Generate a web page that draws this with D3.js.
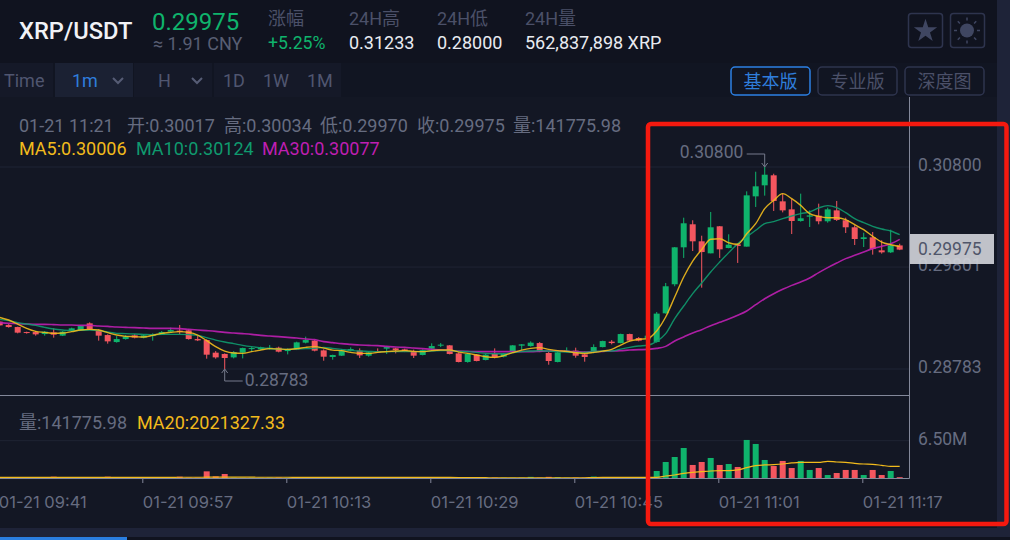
<!DOCTYPE html>
<html>
<head>
<meta charset="utf-8">
<title>XRP/USDT</title>
<script src="https://cdnjs.cloudflare.com/ajax/libs/d3/7.8.5/d3.min.js"></script>
<style>
    html, body { margin: 0; padding: 0; background: #131724; overflow: hidden; }
    svg { display: block; }
    text { font-family: Roboto, "Noto Sans CJK SC", sans-serif; }
</style>
</head>
<body>
<svg id="chart" width="1010" height="540"></svg>
<script>
// one candle per minute, 09:41 to 11:21
var firstTime = new Date(2021, 0, 21, 9, 41);
var tickTimes = ['09:41', '09:57', '10:13', '10:29', '10:45', '11:01', '11:17'];
var priceTicks = [0.30800, 0.29801, 0.28783];
var volumeTicks = [6.5];

var opens = [
    .29256, .29222, .29202, .29152, .29152, .29132, .29149, .29116, .29162, .29169,
    .29239, .29166, .29122, .29052, .29082, .29119, .29096, .29112, .29126, .29156,
    .29166, .29169, .29082, .29072, .28946, .28933, .28899, .28946, .28986, .28979,
    .28982, .28996, .28962, .28979, .29046, .29066, .28969, .28903, .28916, .28966,
    .28966, .28916, .28959, .28986, .28989, .28979, .28962, .28923, .28986, .29016,
    .29019, .28939, .28853, .28926, .28873, .28933, .28906, .28962, .29016, .29012,
    .29042, .28943, .28853, .28956, .28966, .28929, .28949, .29002, .29056, .29042,
    .29132, .29092, .29079, .29053, .29339, .29629, .29998, .30228, .30058, .29938,
    .30208, .29991, .30028, .30005, .30507, .30617, .30717, .30457, .30377, .30261,
    .30304, .30314, .30258, .30367, .30268, .30198, .30081, .30098, .29968, .29948,
    .30017
];
var highs = [
    .29266, .29232, .29206, .29156, .29162, .29162, .29189, .29162, .29196, .29216,
    .29249, .29179, .29129, .29112, .29122, .29132, .29126, .29139, .29162, .29196,
    .29222, .29179, .29112, .29079, .28962, .28939, .28962, .28996, .29002, .29006,
    .29022, .29006, .28989, .29056, .29106, .29072, .28979, .28926, .28982, .28999,
    .28989, .28959, .28989, .29006, .28996, .28986, .28976, .28979, .29039, .29042,
    .29022, .28949, .28939, .28933, .28933, .28989, .28939, .29022, .29032, .29059,
    .29052, .28956, .28956, .28999, .28996, .28956, .29029, .29066, .29072, .29136,
    .29136, .29102, .29126, .29352, .29642, .30001, .30294, .30268, .30114, .30351,
    .30211, .30128, .30035, .30557, .30753, .30800, .30733, .30534, .30484, .30534,
    .30367, .30434, .30394, .30461, .30294, .30218, .30144, .30151, .30068, .30174,
    .30034
];
var lows = [
    .29212, .29196, .29139, .29136, .29116, .29116, .29096, .29112, .29156, .29166,
    .29172, .29066, .29036, .29046, .29076, .29089, .29089, .29066, .29122, .29149,
    .29132, .29076, .29062, .28886, .28886, .28783, .28889, .28889, .28956, .28972,
    .28976, .28949, .28929, .28972, .29039, .28959, .28866, .28876, .28913, .28959,
    .28893, .28906, .28943, .28933, .28939, .28952, .28893, .28919, .28972, .29002,
    .28929, .28849, .28846, .28859, .28869, .28889, .28899, .28956, .28972, .29006,
    .28952, .28826, .28849, .28949, .28896, .28856, .28939, .28999, .29029, .29039,
    .29059, .29059, .29069, .29046, .29336, .29609, .29892, .29961, .29595, .29938,
    .29892, .29988, .29842, .30005, .30401, .30514, .30361, .30347, .30131, .30254,
    .30201, .30228, .30244, .30261, .30141, .30021, .30001, .29925, .29935, .29941,
    .29970
];
var closes = [
    .29219, .29202, .29146, .29142, .29129, .29156, .29126, .29156, .29189, .29212,
    .29179, .29116, .29059, .29082, .29109, .29096, .29119, .29126, .29152, .29172,
    .29152, .29082, .29069, .28926, .28899, .28893, .28952, .28992, .28992, .28999,
    .28996, .28956, .28979, .29049, .29072, .28966, .28906, .28923, .28966, .28982,
    .28919, .28949, .28949, .29002, .28972, .28959, .28916, .28972, .29012, .29026,
    .28933, .28853, .28933, .28863, .28926, .28899, .28933, .29019, .29029, .29046,
    .28959, .28863, .28949, .28969, .28916, .28903, .29002, .29062, .29042, .29132,
    .29066, .29066, .29116, .29336, .29609, .29998, .30238, .30058, .29951, .30198,
    .29978, .30025, .30011, .30517, .30607, .30723, .30461, .30367, .30261, .30288,
    .30317, .30258, .30377, .30271, .30198, .30081, .30098, .29981, .29948, .30018,
    .29975
];
var ma5 = [
    .29299, .29272, .29232, .29189, .29159, .29149, .29139, .29142, .29156, .29172,
    .29179, .29172, .29146, .29122, .29109, .29106, .29102, .29119, .29139, .29149,
    .29156, .29149, .29122, .29066, .29006, .28962, .28943, .28939, .28956, .28972,
    .28986, .28982, .28979, .28986, .28999, .29006, .28992, .28972, .28966, .28949,
    .28939, .28939, .28949, .28956, .28962, .28966, .28959, .28956, .28966, .28972,
    .28972, .28952, .28939, .28923, .28906, .28899, .28916, .28946, .28972, .28989,
    .28996, .28979, .28966, .28959, .28946, .28939, .28949, .28962, .28979, .29022,
    .29062, .29079, .29086, .29163, .29302, .29502, .29702, .29861, .29975, .30078,
    .30084, .30044, .30028, .30134, .30234, .30384, .30467, .30534, .30484, .30417,
    .30334, .30307, .30294, .30294, .30274, .30224, .30174, .30108, .30051, .30024,
    .30006
];
var ma10 = [
    .29279, .29266, .29246, .29232, .29219, .29199, .29182, .29172, .29166, .29169,
    .29172, .29166, .29152, .29139, .29136, .29132, .29129, .29126, .29129, .29129,
    .29129, .29126, .29119, .29096, .29072, .29052, .29036, .29019, .29006, .28996,
    .28986, .28982, .28979, .28982, .28986, .28989, .28999, .28989, .28979, .28969,
    .28962, .28959, .28956, .28956, .28956, .28956, .28956, .28959, .28962, .28966,
    .28966, .28959, .28956, .28949, .28939, .28936, .28936, .28946, .28956, .28962,
    .28966, .28962, .28956, .28952, .28949, .28949, .28956, .28962, .28962, .28982,
    .28999, .29012, .29020, .29059, .29136, .29286, .29412, .29535, .29642, .29752,
    .29851, .29945, .30034, .30101, .30168, .30234, .30254, .30284, .30311, .30334,
    .30351, .30391, .30414, .30394, .30344, .30284, .30244, .30208, .30181, .30161,
    .30124
];
var ma30 = [
    .29246, .29239, .29236, .29232, .29229, .29229, .29226, .29222, .29222, .29219,
    .29219, .29212, .29209, .29202, .29199, .29196, .29192, .29189, .29189, .29189,
    .29186, .29179, .29172, .29166, .29159, .29149, .29142, .29136, .29129, .29119,
    .29112, .29106, .29099, .29092, .29082, .29076, .29056, .29046, .29036, .29029,
    .29022, .29019, .29016, .29009, .29002, .28999, .28992, .28986, .28979, .28972,
    .28969, .28962, .28959, .28956, .28956, .28956, .28956, .28956, .28956, .28956,
    .28959, .28962, .28962, .28959, .28956, .28952, .28956, .28959, .28962, .28966,
    .28972, .28976, .28979, .28989, .29009, .29063, .29103, .29143, .29176, .29216,
    .29249, .29282, .29319, .29362, .29425, .29485, .29535, .29579, .29618, .29652,
    .29692, .29745, .29795, .29841, .29885, .29918, .29951, .29985, .30008, .30034,
    .30077
];
// volume in millions
var volumes = [
    .05, .06, .05, .07, .05, .06, .23, .06, .05, .06,
    .05, .07, .23, .06, .05, .06, .05, .06, .07, .05,
    .23, .06, .05, 1.16, .29, .70, .06, .05, .06, .05,
    .06, .07, .05, .06, .05, .06, .05, .06, .05, .07,
    .05, .06, .05, .06, .05, .06, .07, .05, .06, .05,
    .06, .05, .06, .07, .05, .06, .05, .05, .06, .20,
    .05, .20, .15, .05, .06, .05, .25, .06, .05, .06,
    .05, .06, .08, 1.22, 2.79, 3.66, 5.23, 2.27, 2.79, 3.49,
    2.27, 2.44, 1.92, 6.63, 5.93, 3.14, 2.09, 2.97, 1.74, 2.97,
    1.40, 1.74, .52, .87, 1.40, 1.40, .52, 1.40, .52, 1.22,
    .14
];
var ma20 = [
    .12, .12, .12, .12, .12, .12, .12, .12, .12, .12,
    .12, .12, .12, .12, .12, .12, .12, .12, .12, .12,
    .13, .13, .13, .14, .14, .14, .14, .14, .14, .13,
    .13, .13, .13, .12, .12, .12, .12, .12, .12, .12,
    .12, .12, .12, .12, .12, .12, .12, .12, .12, .11,
    .10, .09, .08, .07, .05, .03, .02, .01, .01, .01,
    .02, .03, .03, .02, .01, .04, .08, .10, .10, .10,
    .10, .11, .12, .12, .35, .52, .81, .99, 1.10, 1.22,
    1.28, 1.28, 1.40, 1.80, 2.15, 2.27, 2.33, 2.44, 2.62, 2.73,
    2.73, 2.73, 2.91, 2.79, 2.73, 2.56, 2.44, 2.38, 2.21, 2.03,
    2.02
];

var GREEN = '#0fb36c', RED = '#f4565f', YELLOW = '#f2bb1c', TEAL = '#0f9a6e', MAGENTA = '#bf1fb2';
var GREY = '#666c80', DIM = '#4b5068', WHITE = '#e9ebf1';

var svg = d3.select('#chart');

var timeAt = function (i) { return d3.timeMinute.offset(firstTime, i); };
var x = d3.scaleTime()
    .domain([firstTime, timeAt(100)])
    .range([-0.3, 899.7]);
var y = d3.scaleLinear().domain([0.30800, 0.28783]).range([167, 369]);
var yVol = d3.scaleLinear().domain([0, 6.5]).range([478, 440.7]);
var parseTick = function (s) {
    var p = s.split(':');
    return new Date(2021, 0, 21, +p[0], +p[1]);
};

function label(sel, str, px, py, size, color, weight) {
    return sel.append('text')
        .attr('x', px).attr('y', py)
        .attr('font-size', size)
        .attr('font-weight', weight || 400)
        .attr('fill', color)
        .text(str);
}
function box(sel, px, py, w, h, fill) {
    return sel.append('rect').attr('x', px).attr('y', py).attr('width', w).attr('height', h).attr('fill', fill);
}

// page chrome
box(svg, 0, 0, 1010, 540, '#131724');
box(svg, 0, 0, 1010, 63, '#10131f');
box(svg, 0, 63, 1010, 34, '#111522');
box(svg, 0, 63, 53, 34, '#151928');
box(svg, 55, 63, 78, 34, '#1b2133');
box(svg, 134, 63, 78, 34, '#151928');
box(svg, 214, 63, 127, 34, '#151928');
box(svg, 997, 0, 13, 528, '#1e2338');
box(svg, 0, 528, 1010, 9, '#1e2338');
box(svg, 0, 537, 1010, 3, '#10131f');
box(svg, 0, 537, 127, 3, '#2a7ee0');

// header
var head = svg.append('g');
label(head, 'XRP/USDT', 19, 39, 23.7, '#f1f2f6', 500);
label(head, '0.29975', 152, 30, 24, GREEN, 400);
label(head, '≈ 1.91 CNY', 153, 50, 18, '#585e73');
label(head, '涨幅', 268, 25, 18, DIM);
label(head, '+5.25%', 268, 49, 17.7, GREEN);
label(head, '24H高', 349, 25, 18, DIM);
label(head, '0.31233', 349, 49, 18, WHITE);
label(head, '24H低', 437, 25, 18, DIM);
label(head, '0.28000', 437, 49, 18, WHITE);
label(head, '24H量', 525, 25, 18, DIM);
label(head, '562,837,898 XRP', 525, 49, 18, WHITE);

// favourite and theme buttons
[[908, 'star'], [950, 'sun']].forEach(function (b) {
    head.append('rect').attr('x', b[0] + 0.5).attr('y', 13.5).attr('width', 34).attr('height', 34).attr('rx', 3)
        .attr('fill', 'none').attr('stroke', '#2e344e').attr('stroke-width', 1.5);
});
head.append('path')
    .attr('d', d3.symbol(d3.symbolStar, 170)())
    .attr('transform', 'translate(925.5,31)')
    .attr('fill', '#3f4661');
head.append('circle').attr('cx', 967).attr('cy', 30.5).attr('r', 7).attr('fill', '#3f4661');
d3.range(8).forEach(function (k) {
    var a = k * Math.PI / 4;
    head.append('line')
        .attr('x1', 967 + Math.cos(a) * 10).attr('y1', 30.5 + Math.sin(a) * 10)
        .attr('x2', 967 + Math.cos(a) * 13).attr('y2', 30.5 + Math.sin(a) * 13)
        .attr('stroke', '#3f4661').attr('stroke-width', 1.5);
});

// toolbar
var bar = svg.append('g');
label(bar, 'Time', 4, 86.5, 18, '#505670');
label(bar, '1m', 72, 86.5, 18, '#2f7ddb');
label(bar, 'H', 158, 86.5, 18, '#505670');
label(bar, '1D', 223, 86.5, 18, '#505670');
label(bar, '1W', 263, 86.5, 18, '#505670');
label(bar, '1M', 307, 86.5, 18, '#505670');
[118, 197].forEach(function (cx) {
    bar.append('path')
        .attr('d', d3.line()([[cx - 5, 78], [cx, 83], [cx + 5, 78]]))
        .attr('fill', 'none').attr('stroke', '#565c75').attr('stroke-width', 2);
});
[['基本版', 731, '#2c80e4', '#2f7ddb'], ['专业版', 818, '#2e344e', '#4b5068'], ['深度图', 905, '#2e344e', '#4b5068']].forEach(function (b) {
    bar.append('rect').attr('x', b[1]).attr('y', 67).attr('width', 79).attr('height', 28).attr('rx', 4)
        .attr('fill', 'none').attr('stroke', b[2]).attr('stroke-width', 1.5);
    label(bar, b[0], b[1] + 39.5, 88, 18, b[3]).attr('text-anchor', 'middle');
});

// grid and axes
var grid = svg.append('g').attr('stroke', '#1f2434').attr('stroke-width', 1);
priceTicks.forEach(function (p) {
    grid.append('line').attr('x1', 0).attr('x2', 909).attr('y1', y(p)).attr('y2', y(p));
});
grid.append('line').attr('x1', 0).attr('x2', 909).attr('y1', yVol(6.5)).attr('y2', yVol(6.5));

var plot = svg.append('g');
svg.append('clipPath').attr('id', 'plotClip').append('rect').attr('width', 909).attr('height', 540);
plot.attr('clip-path', 'url(#plotClip)');

var idx = d3.range(opens.length);
var BODY = 6;

// volume bars
plot.append('g').selectAll('rect').data(idx).join('rect')
    .attr('x', function (i) { return x(timeAt(i)) - BODY / 2; })
    .attr('y', function (i) { return yVol(volumes[i]); })
    .attr('width', BODY)
    .attr('height', function (i) { return yVol(0) - yVol(volumes[i]); })
    .attr('fill', function (i) { return closes[i] >= opens[i] ? GREEN : RED; });

// volume average
plot.append('path')
    .attr('d', d3.line().x(function (i) { return x(timeAt(i)); }).y(function (i) { return yVol(ma20[i]); }).curve(d3.curveMonotoneX)(idx))
    .attr('fill', 'none').attr('stroke', YELLOW).attr('stroke-width', 1.2);

// candles
var candle = plot.append('g').selectAll('g').data(idx).join('g')
    .attr('fill', function (i) { return closes[i] >= opens[i] ? GREEN : RED; });
candle.append('rect')
    .attr('x', function (i) { return x(timeAt(i)) - 0.5; })
    .attr('width', 1)
    .attr('y', function (i) { return y(highs[i]); })
    .attr('height', function (i) { return y(lows[i]) - y(highs[i]); });
candle.append('rect')
    .attr('x', function (i) { return x(timeAt(i)) - BODY / 2; })
    .attr('width', BODY)
    .attr('y', function (i) { return y(Math.max(opens[i], closes[i])); })
    .attr('height', function (i) { return Math.max(1, Math.abs(y(opens[i]) - y(closes[i]))); });

// moving averages
[[ma30, MAGENTA, 1.6], [ma10, TEAL, 1.4], [ma5, YELLOW, 1.4]].forEach(function (m) {
    plot.append('path')
        .attr('d', d3.line().x(function (i) { return x(timeAt(i)); }).y(function (i) { return y(m[0][i]); }).curve(d3.curveMonotoneX)(idx))
        .attr('fill', 'none').attr('stroke', m[1]).attr('stroke-width', m[2]).attr('opacity', 0.9);
});

// panel frame
var frame = svg.append('g').attr('stroke', '#83889a').attr('stroke-width', 1);
frame.append('line').attr('x1', 0).attr('x2', 909.5).attr('y1', 395.5).attr('y2', 395.5);
frame.append('line').attr('x1', 0).attr('x2', 909.5).attr('y1', 478.5).attr('y2', 478.5);
frame.append('line').attr('x1', 909.5).attr('x2', 909.5).attr('y1', 97).attr('y2', 478.5);

// time axis, ticks sit a little left of the candle centres
var xAxis = d3.axisBottom(x)
    .tickValues(tickTimes.map(parseTick))
    .tickFormat(d3.timeFormat('%m-%d %H:%M'))
    .tickSize(5)
    .tickPadding(13);
var xAxisG = svg.append('g').attr('transform', 'translate(-1.4,478)').call(xAxis);
xAxisG.select('.domain').remove();
xAxisG.selectAll('line').attr('stroke', '#83889a');
xAxisG.selectAll('text')
    .attr('text-anchor', 'start')
    .attr('font-size', 16.5)
    .style('font-family', 'Inter, sans-serif')
    .attr('fill', GREY);

// value axes
var priceAxis = d3.axisRight(y).tickValues(priceTicks).tickFormat(d3.format('.5f')).tickSize(0).tickPadding(9);
var priceG = svg.append('g').attr('transform', 'translate(909,0)').call(priceAxis);
var volAxis = d3.axisRight(yVol).tickValues(volumeTicks).tickFormat(function (v) { return d3.format('.2f')(v) + 'M'; }).tickSize(0).tickPadding(9);
var volG = svg.append('g').attr('transform', 'translate(909,0)').call(volAxis);
[priceG, volG].forEach(function (g) {
    g.select('.domain').remove();
    g.selectAll('text').attr('font-size', 17.5).attr('fill', GREY).attr('dy', '0.2em');
});

// last price tag
box(svg, 910, 234, 84, 30, '#cdd0d6').attr('opacity', 0.93);
label(svg, '0.29975', 918, 255, 17.5, '#50566a');

// high and low marks
var hiIdx = d3.range(highs.length).reduce(function (a, b) { return highs[b] > highs[a] ? b : a; }, 0);
var loIdx = d3.range(lows.length).reduce(function (a, b) { return lows[b] < lows[a] ? b : a; }, 0);
var hx = x(timeAt(hiIdx)), hy = y(highs[hiIdx]);
var lx = x(timeAt(loIdx)), ly = y(lows[loIdx]);
var mark = d3.line();
svg.append('path')
    .attr('d', mark([[hx - 18, hy - 13], [hx, hy - 13], [hx, hy]]) + mark([[hx - 3, hy - 4], [hx, hy], [hx + 3, hy - 4]]))
    .attr('fill', 'none').attr('stroke', '#767b8c').attr('stroke-width', 1);
label(svg, d3.format('.5f')(highs[hiIdx]), hx - 85, hy - 9, 17.5, GREY);
svg.append('path')
    .attr('d', mark([[lx + 18, ly + 12], [lx, ly + 12], [lx, ly]]) + mark([[lx - 3, ly + 4], [lx, ly], [lx + 3, ly + 4]]))
    .attr('fill', 'none').attr('stroke', '#767b8c').attr('stroke-width', 1);
label(svg, d3.format('.5f')(lows[loIdx]), lx + 20, ly + 17, 17.5, GREY);

// info lines
var info = svg.append('g');
label(info, '01-21 11:21', 19, 132, 18, GREY);
label(info, '开:0.30017', 127, 132, 18, GREY);
label(info, '高:0.30034', 224, 132, 18, GREY);
label(info, '低:0.29970', 320, 132, 18, GREY);
label(info, '收:0.29975', 417, 132, 18, GREY);
label(info, '量:141775.98', 513, 132, 18, GREY);
label(info, 'MA5:0.30006', 19, 155, 18, YELLOW);
label(info, 'MA10:0.30124', 136, 155, 18, TEAL);
label(info, 'MA30:0.30077', 262, 155, 18, MAGENTA);
label(info, '量:141775.98', 19, 429, 18, GREY);
label(info, 'MA20:2021327.33', 137, 429, 18, YELLOW);

// red highlight around the last half hour
svg.append('rect')
    .attr('x', 648).attr('y', 124).attr('width', 358.5).attr('height', 400).attr('rx', 3)
    .attr('fill', 'none').attr('stroke', '#f5190f').attr('stroke-width', 4.5);
</script>
</body>
</html>
